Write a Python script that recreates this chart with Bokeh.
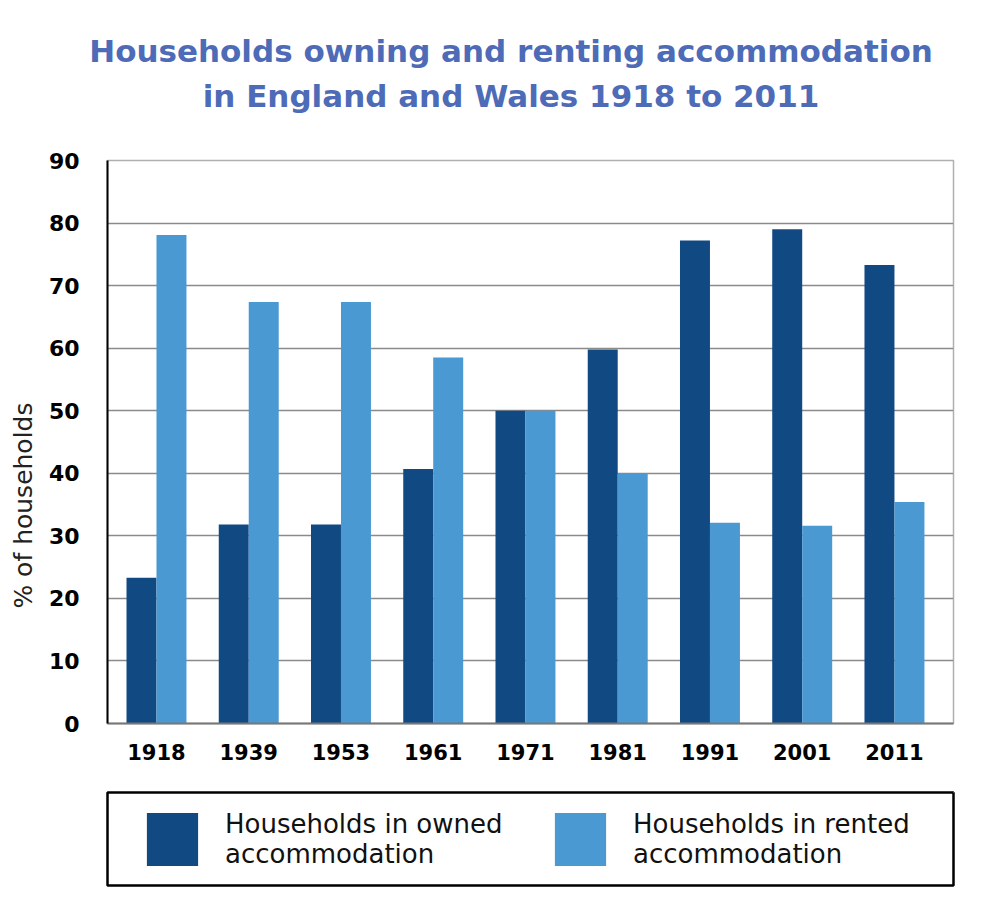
from bokeh.plotting import figure
from bokeh.models import (Range1d, FixedTicker, Legend, LegendItem, Div)
from bokeh.layouts import column
from bokeh.embed import file_html
from bokeh.resources import INLINE

years = ["1918", "1939", "1953", "1961", "1971", "1981", "1991", "2001", "2011"]
owned = [23.3, 31.8, 31.8, 40.7, 50.0, 59.8, 77.2, 79.0, 73.3]
rented = [78.1, 67.4, 67.4, 58.5, 50.0, 40.0, 32.1, 31.6, 35.4]
y_ticks = [0, 10, 20, 30, 40, 50, 60, 70, 80, 90]

title_lines = ["Households owning and renting accommodation",
               "in England and Wales 1918 to 2011"]
legend_labels = ["Households in owned\naccommodation",
                 "Households in rented\naccommodation"]
y_label = "% of households"

DARK = "#114a82"
LIGHT = "#4a99d3"
TITLE_C = "#4d6bb7"

xs = list(range(len(years)))
bw = 0.325
XR = (-0.531, 8.64)

# ---- title ----
title_html = (
    '<div style="margin-left:38px; width:946px; padding-top:29px; '
    'text-align:center; font-family:\'DejaVu Sans\'; font-weight:bold; '
    'font-size:31px; line-height:45px; color:%s; white-space:nowrap;">'
    '%s<br>%s</div>' % (TITLE_C, title_lines[0], title_lines[1])
)
tdiv = Div(text=title_html, width=984, height=140, margin=0)

# ---- main chart ----
p = figure(width=984, height=640, output_backend="svg", toolbar_location=None,
           title_location=None,
           x_range=Range1d(*XR), y_range=Range1d(0, 90),
           min_border_left=107, min_border_right=31, min_border_top=20,
           min_border_bottom=57)

r1 = p.vbar(x=[x - bw / 2 for x in xs], top=owned, width=bw, color=DARK, line_color=None)
r2 = p.vbar(x=[x + bw / 2 for x in xs], top=rented, width=bw, color=LIGHT, line_color=None)

p.outline_line_color = "#b0b0b0"
p.outline_line_width = 1.5

p.xgrid.grid_line_color = None
p.ygrid.grid_line_color = "#8a8a8a"
p.ygrid.grid_line_width = 1.5
p.ygrid.ticker = FixedTicker(ticks=y_ticks)

p.yaxis.ticker = FixedTicker(ticks=y_ticks)
p.yaxis.axis_line_color = "black"
p.yaxis.axis_line_width = 2
p.yaxis.major_tick_line_color = None
p.yaxis.minor_tick_line_color = None
p.yaxis.major_label_text_font = "DejaVu Sans"
p.yaxis.major_label_text_font_style = "bold"
p.yaxis.major_label_text_font_size = "22px"
p.yaxis.major_label_text_color = "black"
p.yaxis.major_label_standoff = 22
p.yaxis.axis_label = y_label + "\u00a0" * 16
p.yaxis.axis_label_text_font = "DejaVu Sans"
p.yaxis.axis_label_text_font_style = "normal"
p.yaxis.axis_label_text_font_size = "25px"
p.yaxis.axis_label_text_color = "#222222"
p.yaxis.axis_label_standoff = 8

p.xaxis.ticker = FixedTicker(ticks=xs)
p.xaxis.major_label_overrides = {i: y for i, y in enumerate(years)}
p.xaxis.axis_line_color = "#777777"
p.xaxis.axis_line_width = 2
p.xaxis.major_tick_line_color = None
p.xaxis.minor_tick_line_color = None
p.xaxis.major_label_text_font = "DejaVu Sans"
p.xaxis.major_label_text_font_style = "bold"
p.xaxis.major_label_text_font_size = "21px"
p.xaxis.major_label_text_color = "black"
p.xaxis.major_label_standoff = 14

# ---- legend panel ----
lg = figure(width=984, height=113, output_backend="svg", toolbar_location=None,
            x_axis_type=None, y_axis_type=None, title_location=None,
            x_range=Range1d(-20, -10), y_range=Range1d(-20, -10),
            min_border_left=103, min_border_right=26, min_border_top=12,
            min_border_bottom=8)
lg.grid.grid_line_color = None
lg.outline_line_color = "black"
lg.outline_line_width = 2.5
g1 = lg.vbar(x=xs, top=owned, width=bw, color=DARK, line_color=None)
g2 = lg.vbar(x=xs, top=rented, width=bw, color=LIGHT, line_color=None)
legend = Legend(items=[LegendItem(label=legend_labels[0], renderers=[g1]),
                       LegendItem(label=legend_labels[1], renderers=[g2])],
                orientation="horizontal", location=(33, 13), padding=0,
                spacing=33, glyph_width=64, glyph_height=66, label_standoff=21,
                label_width=290, border_line_alpha=0, background_fill_alpha=0,
                label_text_font="DejaVu Sans", label_text_font_size="26px",
                label_text_color="#111111", label_text_line_height=1.3,
                margin=0)
lg.add_layout(legend)

open("out.html", "w").write(file_html(column(tdiv, p, lg), INLINE))
